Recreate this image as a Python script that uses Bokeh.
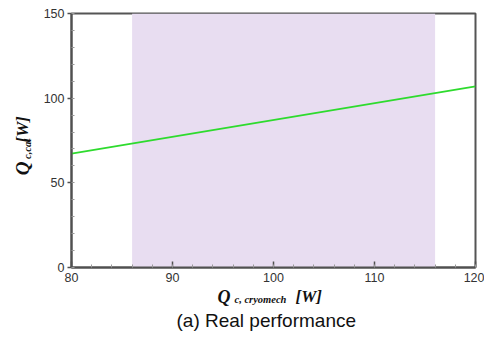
import math
from bokeh.plotting import figure
from bokeh.models import Range1d, SingleIntervalTicker, Label, ColumnDataSource
from bokeh.layouts import row, column
from bokeh.embed import file_html
from bokeh.resources import INLINE

# ---- data ----
q_cryomech = [80, 120]          # x values of the line
q_cal = [67.3, 106.9]           # y values of the line
shade_range = [86, 116]         # shaded operating band (x)
y_limits = [0, 150]
x_limits = [80, 120]

LW = 36                 # width of the left text strip
MW, MH = 448, 287       # main figure
BW, BH = LW + MW, 44    # bottom text strip
FL, FR, FT, FB = 71 - LW, 9, 13, 20

p = figure(width=MW, height=MH, output_backend="svg", toolbar_location=None,
           x_range=Range1d(*x_limits), y_range=Range1d(*y_limits),
           min_border=0, min_border_left=FL, min_border_right=FR,
           min_border_top=FT, min_border_bottom=FB)
p.background_fill_color = "white"
p.border_fill_color = "white"
p.xgrid.visible = False
p.ygrid.visible = False
p.outline_line_color = "#555555"
p.outline_line_width = 2

src_band = ColumnDataSource(dict(left=[shade_range[0]], right=[shade_range[1]],
                                 bottom=[y_limits[0]], top=[y_limits[1]]))
p.quad(left="left", right="right", bottom="bottom", top="top", source=src_band,
       fill_color="#e8ddf1", line_color=None)

p.line(q_cryomech, q_cal, line_color="#2edb2e", line_width=1.8)

p.xaxis.ticker = SingleIntervalTicker(interval=10, num_minor_ticks=5)
p.yaxis.ticker = SingleIntervalTicker(interval=50, num_minor_ticks=5)
for ax in (p.xaxis, p.yaxis):
    ax.axis_line_color = "#505050"
    ax.axis_line_width = 2
    ax.major_tick_line_color = "#505050"
    ax.major_tick_line_width = 1.5
    ax.minor_tick_line_color = "#999999"
    ax.major_label_text_font = "Liberation Sans"
    ax.major_label_text_font_size = "12.5px"
    ax.major_label_text_color = "#333333"
p.xaxis.major_tick_in = 6
p.xaxis.major_tick_out = 0
p.xaxis.minor_tick_in = 3
p.xaxis.minor_tick_out = 0
p.xaxis.major_label_standoff = 5
p.yaxis.major_tick_in = 0
p.yaxis.major_tick_out = 4
p.yaxis.minor_tick_in = 3
p.yaxis.minor_tick_out = 0
p.yaxis.major_label_standoff = 3


def text_strip(w, h):
    f = figure(width=w, height=h, output_backend="svg", toolbar_location=None,
               x_range=Range1d(0, w), y_range=Range1d(0, h), title=None,
               x_axis_type=None, y_axis_type=None, min_border=0)
    f.outline_line_color = None
    f.grid.visible = False
    f.background_fill_color = "white"
    f.border_fill_color = "white"
    return f


serif = "Liberation Serif"


def lab(fig, h, top, txt, px, py, size, angle=0.0, font=serif,
        style="bold italic", color="#111111", align="left", baseline="alphabetic"):
    # px, py: position in page pixels; top: page y of the strip's top edge
    fig.add_layout(Label(x=px, y=h - (py - top), text=txt, text_font=font,
                         text_font_style=style, text_font_size=size,
                         text_color=color, text_align=align,
                         text_baseline=baseline, angle=angle))


# left strip: rotated y axis label  Q_{c,cal} [W]  (centred pieces)
pl = text_strip(LW, MH)
lab(pl, MH, 0, "Q", 22, 175, "19px", angle=math.pi / 2, align="center", baseline="middle")
lab(pl, MH, 0, "c,cal", 27, 153, "10.5px", angle=math.pi / 2, align="center", baseline="middle")
lab(pl, MH, 0, "[W]", 22, 131, "17px", angle=math.pi / 2, align="center", baseline="middle")

# bottom strip: x axis label Q_{c, cryomech} [W] and caption
pb = text_strip(BW, BH)
lab(pb, BH, MH, "Q", 217, 296, "18px")
lab(pb, BH, MH, "c, cryomech", 234, 299, "10.5px")
lab(pb, BH, MH, "[W]", 295, 296, "17px")
lab(pb, BH, MH, "(a) Real performance", 176, 320, "19px",
    font="Liberation Sans", style="normal", color="#111111")

layout = column(row(pl, p), pb)
open("out.html", "w").write(file_html(layout, INLINE))
